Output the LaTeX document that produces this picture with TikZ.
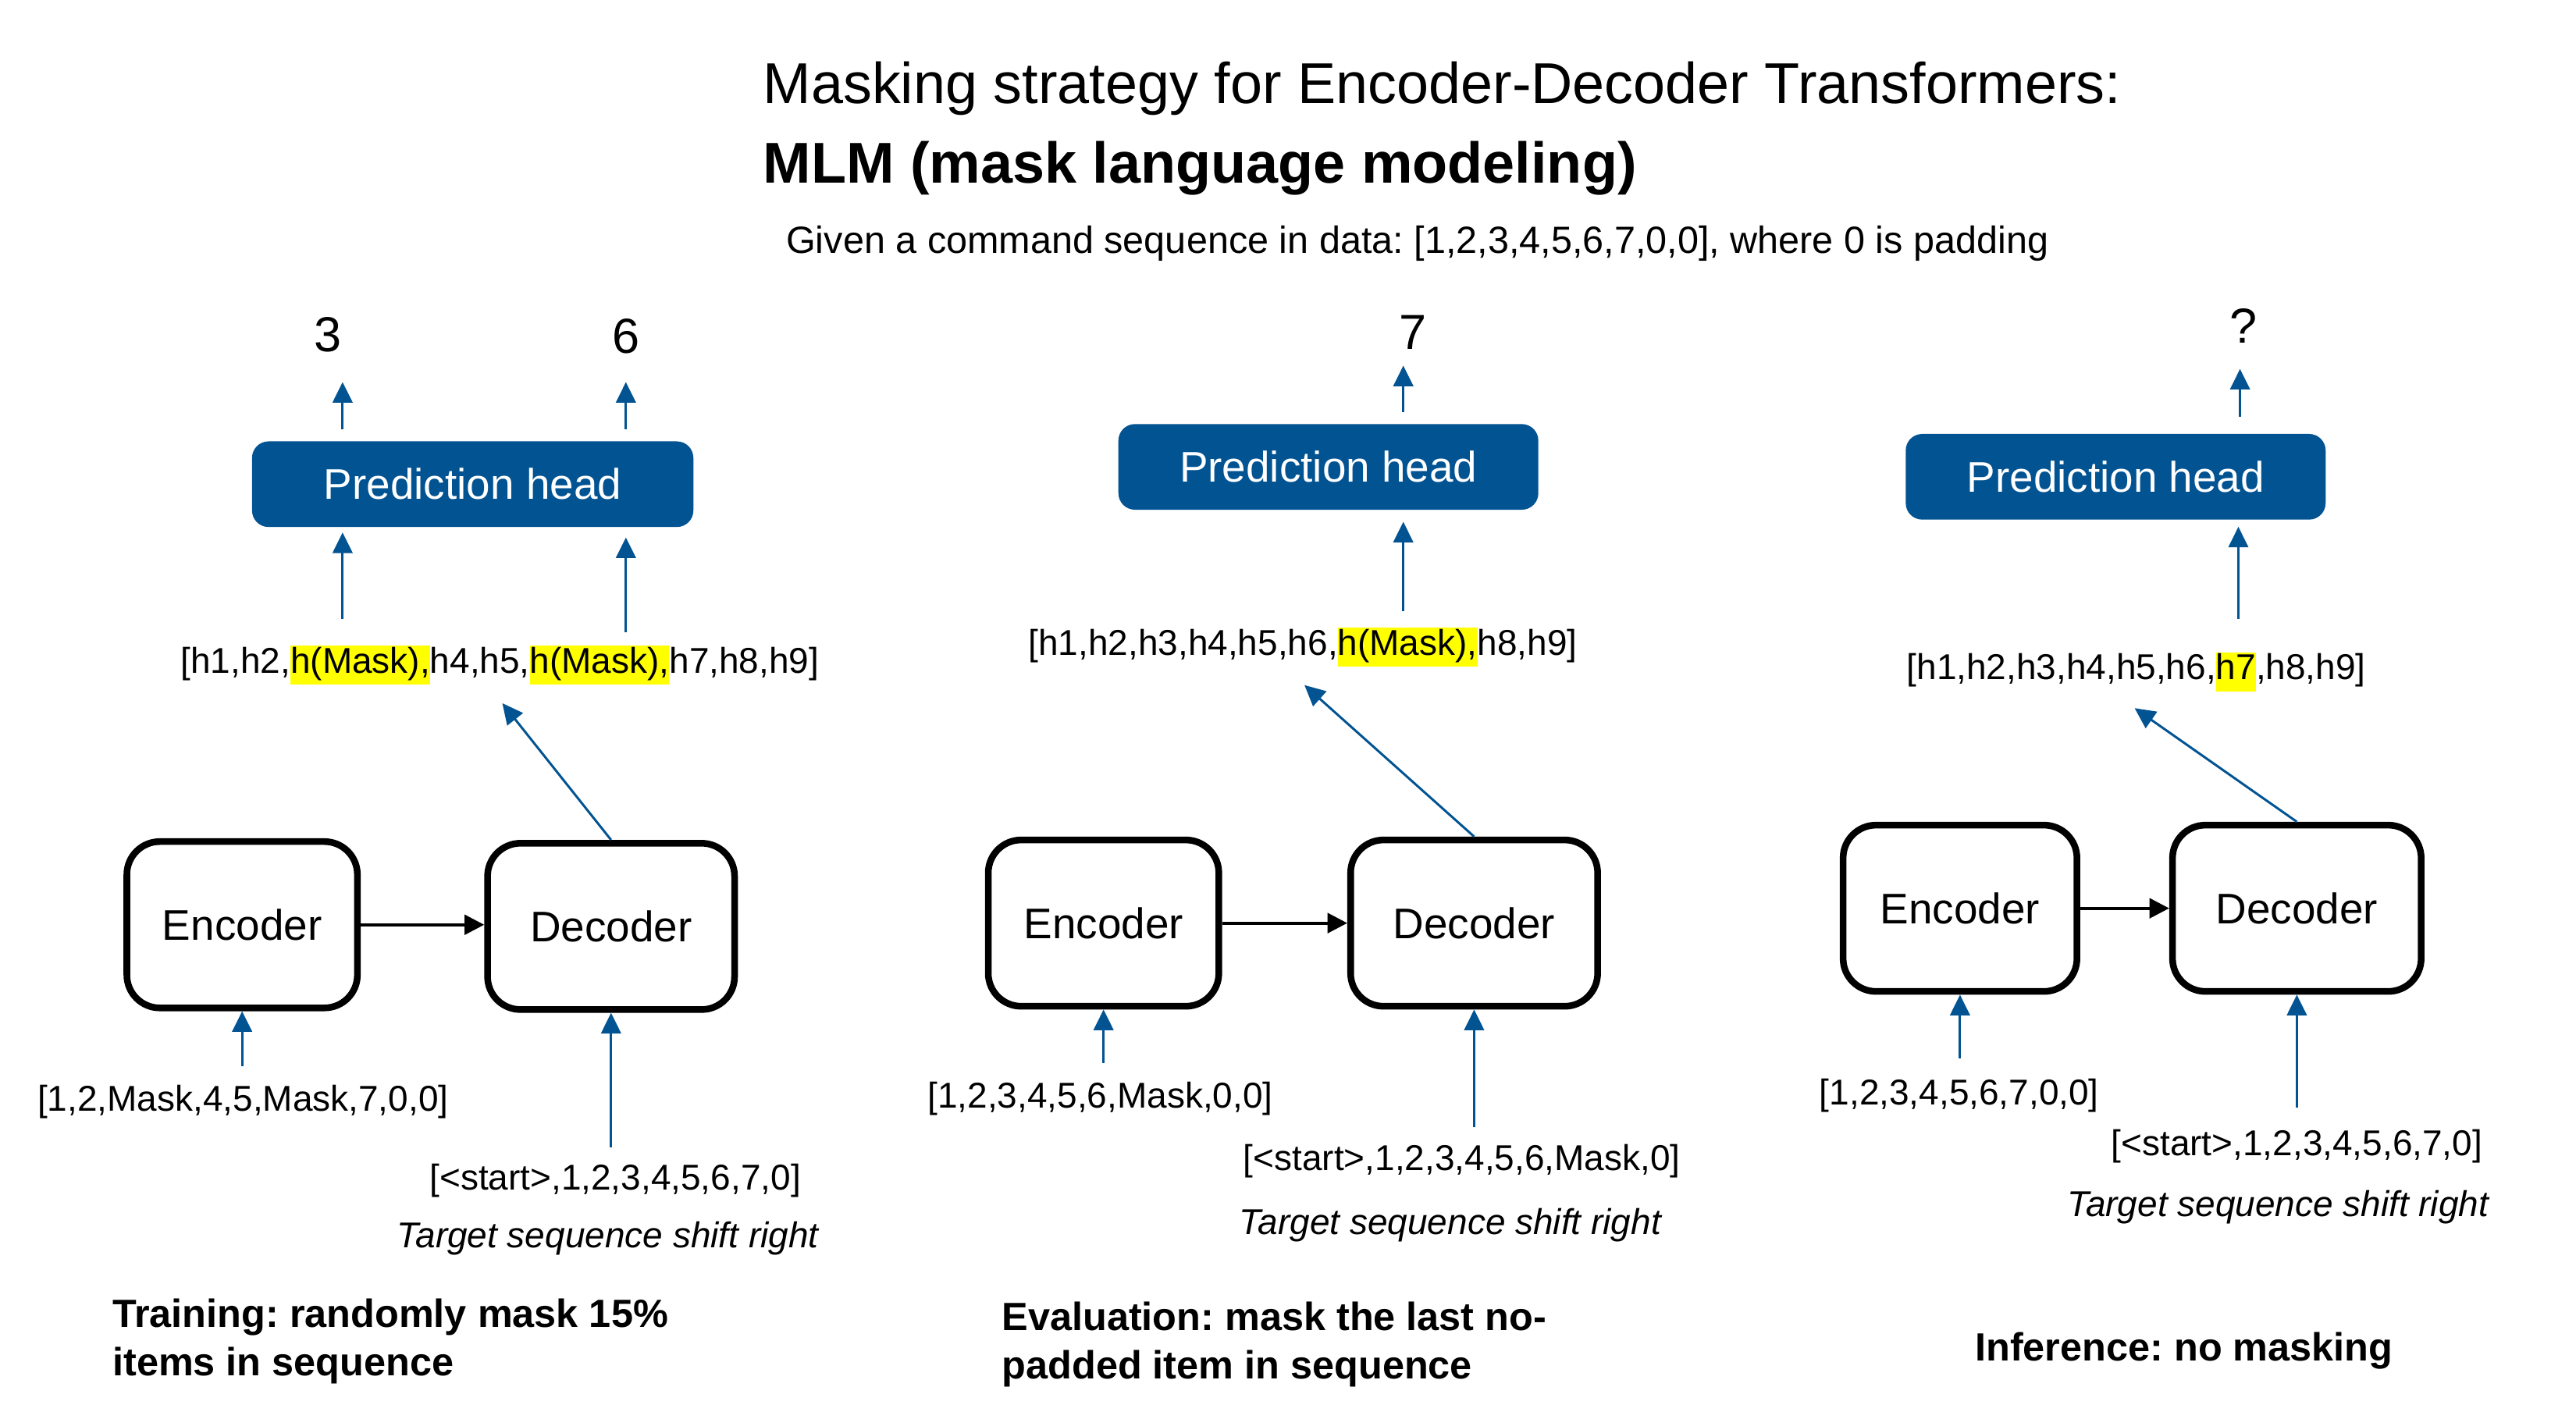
\documentclass[tikz,border=0pt]{standalone}
\usepackage{fontspec}
\setmainfont{Liberation Sans}
\usetikzlibrary{arrows.meta,calc}
\frenchspacing
\definecolor{headblue}{RGB}{2,83,146}
\definecolor{hlyellow}{RGB}{255,255,0}
\newcommand{\hlt}[1]{{\setlength{\fboxsep}{0pt}\colorbox{hlyellow}{\strut #1}}}
\tikzset{
	block/.style={draw=black, line width=2.3pt, rounded corners=0.4cm, minimum height=2.02cm, font=\fontsize{14.8}{17}\selectfont},
	head/.style={fill=headblue, text=white, rounded corners=0.2cm, minimum height=1.04cm, minimum width=5.1cm, font=\fontsize{14.8}{17}\selectfont},
	seq/.style={font=\fontsize{12.4}{13.5}\selectfont, inner sep=0pt},
	note/.style={font=\fontsize{12.4}{13.5}\selectfont\itshape, inner sep=0pt},
	outval/.style={font=\fontsize{17}{20}\selectfont, inner sep=0pt},
	caption/.style={font=\fontsize{13.6}{16.7}\selectfont\bfseries, align=left, inner sep=0pt},
	flow/.style={draw=headblue, line width=0.8pt, -{Triangle[length=0.25cm,width=0.24cm]}},
	pass/.style={draw=black, line width=1.1pt, -{Triangle[length=0.24cm,width=0.24cm]}},
}
\begin{document}
\begin{tikzpicture}[x=0.02cm, y=-0.02cm]
			\useasboundingbox (0,0) rectangle (1564,857);
			
			% titles
			\node[anchor=base west, inner sep=0pt, font=\fontsize{19.9}{24}\selectfont] (title) at (463,63) {Masking strategy for Encoder-Decoder Transformers:};
			\node[anchor=base west, inner sep=0pt, font=\fontsize{19.9}{24}\selectfont\bfseries] (subtitle) at (463,111) {MLM (mask language modeling)};
			\node[anchor=base west, inner sep=0pt, font=\fontsize{13.1}{16}\selectfont] (given) at (477,154) {Given a command sequence in data: [1,2,3,4,5,6,7,0,0], where 0 is padding};
			
			% training
			\node[block, minimum width=2.8cm] (enc1) at (147,561.5) {Encoder};
			\node[block, minimum width=3cm] (dec1) at (371,562.5) {Decoder};
			\node[head, minimum width=5.36cm] (head1) at (287,294) {Prediction head};
			\node[seq] (hs1) at (303.5,404) {[h1,h2,\hlt{h(Mask),}h4,h5,\hlt{h(Mask),}h7,h8,h9]};
			\node[outval] (o3) at (199,203) {3};
			\node[outval] (o6) at (380,204) {6};
			\node[seq] (in1) at (147.5,669) {[1,2,Mask,4,5,Mask,7,0,0]};
			\node[seq] (tg1) at (373.5,717) {[<start>,1,2,3,4,5,6,7,0]};
			\node[note] (it1) at (369,752) {Target sequence shift right};
			\node[caption, anchor=west] (cap1) at (68,814.5) {Training: randomly mask 15\%\\items in sequence};
			\coordinate (t1) at (208,232);
			\coordinate (t2) at (380,232);
			\coordinate (m1) at (208,376);
			\coordinate (m2) at (380,384);
			\coordinate (e1) at (305,427);
			\draw[pass] (enc1.east) -- (enc1.east -| dec1.west);
			\draw[flow] ($(enc1.south |- in1.north)+(0,-11)$) -- (enc1.south);
			\draw[flow] ($(dec1.south |- tg1.north)+(0,-10)$) -- (dec1.south);
			\draw[flow] (dec1.north) -- (e1);
			\draw[flow] (m1) -- ($(m1 |- head1.south)+(0,3)$);
			\draw[flow] (m2) -- ($(m2 |- head1.south)+(0,6)$);
			\draw[flow] ($(head1.north -| t1)+(0,-7)$) -- (t1);
			\draw[flow] ($(head1.north -| t2)+(0,-7)$) -- (t2);
			
			% evaluation
			\node[block, minimum width=2.8cm] (enc2) at (670,560.5) {Encoder};
			\node[block, minimum width=3cm] (dec2) at (895,560.5) {Decoder};
			\node[head] (head2) at (806.5,283.5) {Prediction head};
			\node[seq] (hs2) at (791,393) {[h1,h2,h3,h4,h5,h6,\hlt{h(Mask),}h8,h9]};
			\node[outval] (o7) at (858,202) {7};
			\node[seq] (in2) at (668,667) {[1,2,3,4,5,6,Mask,0,0]};
			\node[seq] (tg2) at (887.5,705) {[<start>,1,2,3,4,5,6,Mask,0]};
			\node[note] (it2) at (880.5,744) {Target sequence shift right};
			\node[caption, anchor=west] (cap2) at (608,816.5) {Evaluation: mask the last no-\\padded item in sequence};
			\coordinate (t3) at (852,222);
			\coordinate (m3) at (852,371);
			\coordinate (e2) at (792,416);
			\draw[pass] (enc2.east) -- (enc2.east -| dec2.west);
			\draw[flow] ($(enc2.south |- in2.north)+(0,-11)$) -- (enc2.south);
			\draw[flow] ($(dec2.south |- tg2.north)+(0,-10)$) -- (dec2.south);
			\draw[flow] (dec2.north) -- (e2);
			\draw[flow] (m3) -- ($(m3 |- head2.south)+(0,7)$);
			\draw[flow] ($(head2.north -| t3)+(0,-7)$) -- (t3);
			
			% inference
			\node[block, minimum width=2.84cm] (enc3) at (1190,551.5) {Encoder};
			\node[block, minimum width=3.02cm] (dec3) at (1394.5,551.5) {Decoder};
			\node[head] (head3) at (1284.5,289.5) {Prediction head};
			\node[seq] (hs3) at (1297,408) {[h1,h2,h3,h4,h5,h6,\hlt{h7},h8,h9]};
			\node[outval] (oq) at (1362,198) {?};
			\node[seq] (in3) at (1189.5,665) {[1,2,3,4,5,6,7,0,0]};
			\node[seq] (tg3) at (1394.5,696) {[<start>,1,2,3,4,5,6,7,0]};
			\node[note] (it3) at (1383,733) {Target sequence shift right};
			\node[caption] (cap3) at (1326,820) {Inference: no masking};
			\coordinate (t4) at (1360,224);
			\coordinate (m4) at (1359,376);
			\coordinate (e3) at (1296,430);
			\draw[pass] (enc3.east) -- (enc3.east -| dec3.west);
			\draw[flow] ($(enc3.south |- in3.north)+(0,-12)$) -- (enc3.south);
			\draw[flow] ($(dec3.south |- tg3.north)+(0,-13)$) -- (dec3.south);
			\draw[flow] (dec3.north) -- (e3);
			\draw[flow] (m4) -- ($(m4 |- head3.south)+(0,4)$);
			\draw[flow] ($(head3.north -| t4)+(0,-10)$) -- (t4);
			
\end{tikzpicture}
\end{document}
